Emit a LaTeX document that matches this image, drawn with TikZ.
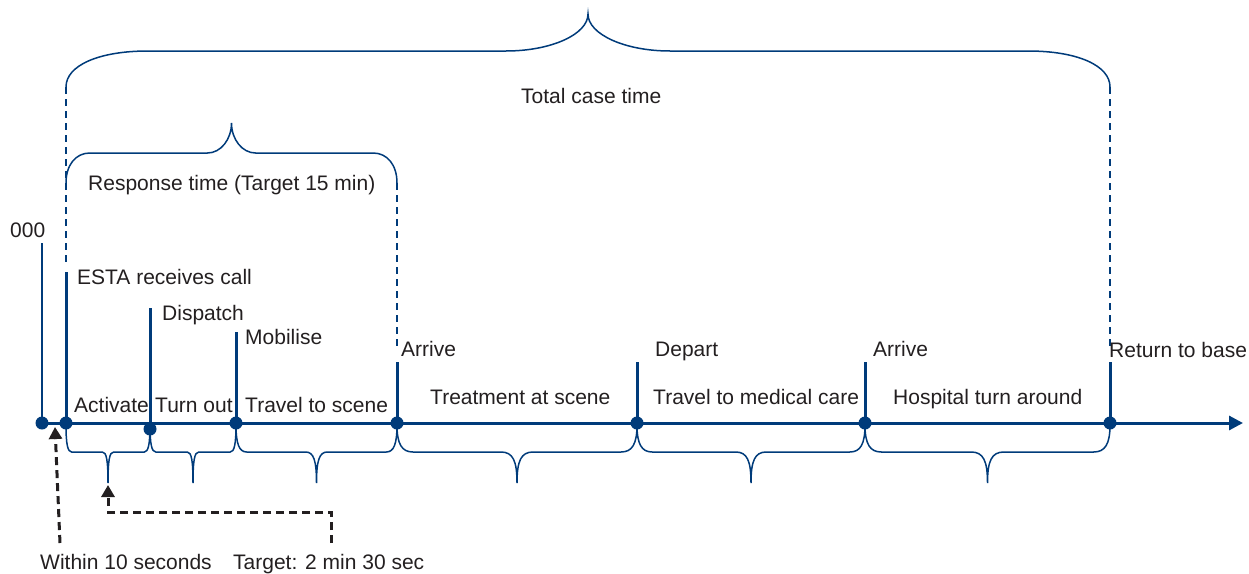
\documentclass[tikz,border=0pt]{standalone}
\usepackage{fontspec}
\setmainfont{Liberation Sans}
\usetikzlibrary{arrows.meta}
\definecolor{navy}{HTML}{003B7A}
\definecolor{ink}{HTML}{231F20}
\newcommand\myupbrace[6]{%
 \pgfmathsetmacro\myxm{(#1+#2)/2}%
 \draw[brc] (#1,#3) .. controls (#1,{#3-0.6*(#3-#4)}) and ({#1+0.4*#6},#4) .. ({#1+#6},#4)
   -- ({\myxm-#6},#4) .. controls ({\myxm-0.45*#6},#4) and (\myxm,{#4-0.45*(#4-#5)}) .. (\myxm,#5)
   .. controls (\myxm,{#4-0.45*(#4-#5)}) and ({\myxm+0.45*#6},#4) .. ({\myxm+#6},#4)
   -- ({#2-#6},#4) .. controls ({#2-0.4*#6},#4) and (#2,{#3-0.6*(#3-#4)}) .. (#2,#3);}
\newcommand\mydnbrace[2]{%
 \pgfmathsetmacro\myxm{(#1+#2)/2}%
 \pgfmathsetmacro\mybc{(#2-#1)/15}%
 \draw[brc] (#1,425) .. controls (#1,444) and ({#1+0.3*\mybc},452) .. ({#1+\mybc},452)
   -- ({\myxm-\mybc},452) .. controls ({\myxm-0.25*\mybc},452) and (\myxm,461) .. (\myxm,483)
   .. controls (\myxm,461) and ({\myxm+0.25*\mybc},452) .. ({\myxm+\mybc},452)
   -- ({#2-\mybc},452) .. controls ({#2-0.3*\mybc},452) and (#2,444) .. (#2,425);}
\begin{document}
\begin{tikzpicture}[x=1pt,y=-1pt,
 lbl/.style={anchor=base west,inner sep=0pt,text=ink,font=\fontsize{21}{25}\selectfont},
 dot/.style={circle,fill=navy,inner sep=0pt,minimum size=13pt},
 tick/.style={navy,line width=3pt},
 thintick/.style={navy,line width=2pt},
 brc/.style={navy,line width=1.5pt},
 guide/.style={navy,line width=2.5pt,dash pattern=on 7pt off 5pt},
 ptr/.style={ink,line width=3pt,dash pattern=on 8pt off 5pt,-{Triangle[length=12pt,width=13pt]}},
 axis/.style={navy,line width=3pt,-{Triangle[length=14pt,width=14pt]}}]
\useasboundingbox (0,0) rectangle (1249,573);
% event points
\coordinate (c0) at (42,423);
\coordinate (c1) at (66,423);
\coordinate (c2) at (150,429);
\coordinate (c3) at (236,423);
\coordinate (c4) at (397,423);
\coordinate (c5) at (637,423);
\coordinate (c6) at (865,423);
\coordinate (c7) at (1110,423);
\coordinate (axend) at (1243,423);
% tick tops
\coordinate (t0) at (42,243);
\coordinate (t1) at (66,272);
\coordinate (t2) at (150,308);
\coordinate (t3) at (236,332);
\coordinate (t4) at (397,362);
\coordinate (t5) at (637,362);
\coordinate (t6) at (865,362);
\coordinate (t7) at (1110,362);
% axis
\draw[axis] (c0) -- (axend);
% ticks
\draw[thintick] (c0) -- (t0);
\foreach \i in {1,...,7} { \draw[tick] (c\i) -- (t\i); }
% dashed guides
\coordinate (g1a) at (66,87);  \coordinate (g1b) at (66,264);
\coordinate (g2a) at (397,183); \coordinate (g2b) at (397,346);
\coordinate (g3a) at (1110,87); \coordinate (g3b) at (1110,346);
\draw[guide] (g1a) -- (g1b);
\draw[guide] (g2a) -- (g2b);
\draw[guide] (g3a) -- (g3b);
% dots
\foreach \i in {0,...,7} { \node[dot] (d\i) at (c\i) {}; }
% braces
\myupbrace{66}{1110}{87}{51}{14}{82}
\myupbrace{66}{397}{183}{153}{123}{24}
\mydnbrace{66}{150}
\mydnbrace{150}{236}
\mydnbrace{236}{397}
\mydnbrace{397}{637}
\mydnbrace{637}{865}
\mydnbrace{865}{1110}
% labels
\node[lbl] (l000) at (10,237) {000};
\node[lbl] (lesta) at (77,284) {ESTA receives call};
\node[lbl] (ldisp) at (162,320) {Dispatch};
\node[lbl] (lmob) at (245,344) {Mobilise};
\node[lbl] (larr1) at (401,356) {Arrive};
\node[lbl] (ldep) at (655,356) {Depart};
\node[lbl] (larr2) at (873,356) {Arrive};
\node[lbl] (lret) at (1109,357) {Return to base};
\node[lbl] (lact) at (74,412) {Activate};
\node[lbl] (lturn) at (155,412) {Turn out};
\node[lbl] (ltrav) at (245,412) {Travel to scene};
\node[lbl] (ltreat) at (430,404) {Treatment at scene};
\node[lbl] (lmed) at (653,404) {Travel to medical care};
\node[lbl] (lhosp) at (893,404) {Hospital turn around};
\node[lbl] (ltotal) at (521,103) {Total case time};
\node[lbl] (lresp) at (88,190) {Response time (Target 15 min)};
\node[lbl] (lwithin) at (40,569) {Within 10 seconds};
\node[lbl] (ltarget) at (233,569) {Target: 2 min 30 sec};
% pointers
\coordinate (w0) at (60,543);
\coordinate (w1) at (55,427);
\draw[ptr] (w0) -- (w1);
\coordinate (p0) at (331,543);
\coordinate (p1) at (331,512);
\coordinate (p2) at (108,512);
\coordinate (p3) at (108,485);
\draw[ptr] (p0) -- (p1) -- (p2) -- (p3);
\end{tikzpicture}
\end{document}
